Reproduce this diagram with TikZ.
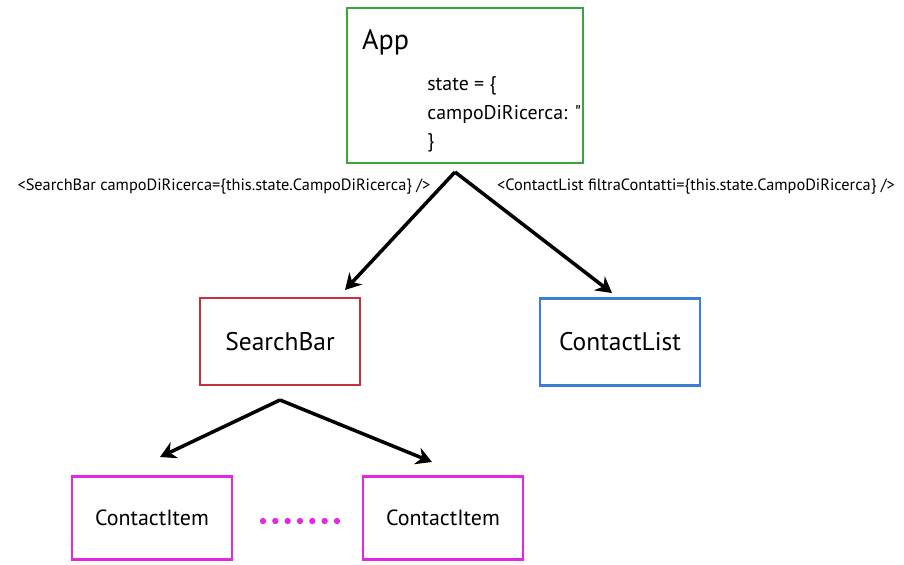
\documentclass[tikz,border=0pt]{standalone}
\usepackage{fontspec}
\setmainfont{PT Sans}[Ligatures=TeXOff]
\usepackage{xcolor}
\usetikzlibrary{arrows.meta,positioning}

\definecolor{appgreen}{RGB}{52,168,58}
\definecolor{sbred}{RGB}{196,48,62}
\definecolor{clblue}{RGB}{58,126,214}
\definecolor{itemmag}{RGB}{226,40,226}

\begin{document}
\begin{tikzpicture}[
    x=0.02cm, y=-0.02cm,
    comp/.style={rectangle, line width=1.6pt, minimum width=3.2cm, minimum height=1.74cm, align=center, font=\fontsize{14.5}{16}\selectfont},
    item/.style={comp, draw=itemmag, minimum height=1.66cm, font=\fontsize{12.5}{15}\selectfont},
    arr/.style={-{Stealth[length=9pt, width=10pt]}, line width=2pt, black},
    lbl/.style={font=\fontsize{9.3}{11}\selectfont, inner sep=1pt},
  ]
    \useasboundingbox (0,0) rectangle (904,565);

    % App with its state
    \node[rectangle, draw=appgreen, line width=1.6pt, minimum width=4.72cm, minimum height=3.1cm] (app) at (465,85.5) {};
    \node[anchor=west, font=\fontsize{16}{18}\selectfont] (apptitle) at (356,42) {App};
    \node[anchor=north west, align=left, inner sep=0pt, font=\fontsize{11.3}{16.4}\selectfont] (appstate) at (427,76) {state = \{\\campoDiRicerca: "\\\}};

    % Children
    \node[comp, draw=sbred] (sb) at (280,341.5) {SearchBar};
    \node[comp, draw=clblue] (cl) at (620,342) {ContactList};
    \node[item] (ci1) at (152,518) {ContactItem};
    \node[item] (ci2) at (443,518) {ContactItem};

    % Props passed down
    \node[lbl] (sblbl) at (224,187) {<SearchBar campoDiRicerca=\{this.state.CampoDiRicerca\} />};
    \node[lbl] (cllbl) at (696,187) {<ContactList filtraContatti=\{this.state.CampoDiRicerca\} />};

    % Arrow ends
    \coordinate (appout) at (455,172);
    \coordinate (sbin) at (345,290);
    \coordinate (clin) at (612,293);
    \coordinate (sbout) at (280,400);
    \coordinate (ci1in) at (160,457);
    \coordinate (ci2in) at (432,462);

    \draw[arr] (appout) -- (sbin);
    \draw[arr] (appout) -- (clin);
    \draw[arr] (sbout) -- (ci1in);
    \draw[arr] (sbout) -- (ci2in);

    % More items in between
    \foreach \i in {0,...,6}
      \fill[itemmag] (263+\i*12.33,521) circle (1.8pt);

  \end{tikzpicture}
\end{document}
